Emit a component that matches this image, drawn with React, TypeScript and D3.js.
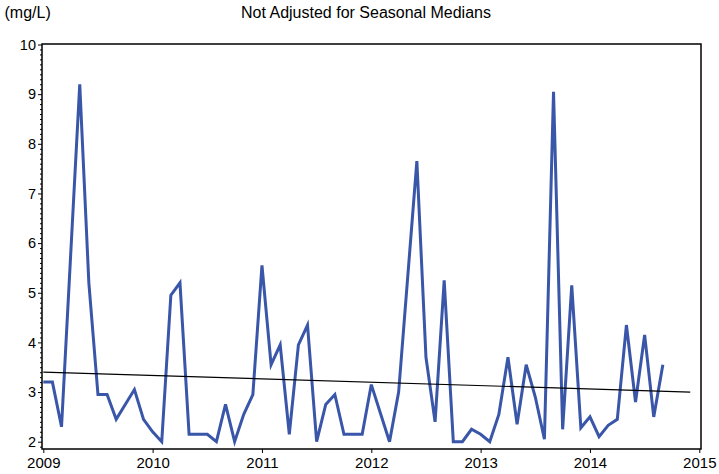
import * as React from 'react';
import * as d3 from 'd3';

// monthly samples
const months = [
  '2009-01', '2009-02', '2009-03', '2009-05', '2009-06', '2009-07', '2009-08', '2009-09', '2009-11', '2009-12',
  '2010-01', '2010-02', '2010-03', '2010-04', '2010-05', '2010-06', '2010-07', '2010-08', '2010-09', '2010-10', '2010-11', '2010-12',
  '2011-01', '2011-02', '2011-03', '2011-04', '2011-05', '2011-06', '2011-07', '2011-08', '2011-09', '2011-10', '2011-11', '2011-12',
  '2012-01', '2012-03', '2012-04', '2012-06', '2012-07', '2012-08', '2012-09', '2012-10', '2012-11', '2012-12',
  '2013-01', '2013-02', '2013-03', '2013-04', '2013-05', '2013-06', '2013-07', '2013-08', '2013-09', '2013-10', '2013-11', '2013-12',
  '2014-01', '2014-02', '2014-03', '2014-04', '2014-05', '2014-06', '2014-07', '2014-08', '2014-09',
];
const values = [
  3.2, 3.2, 2.3, 9.2, 5.2, 2.95, 2.95, 2.45, 3.05, 2.45,
  2.2, 2.0, 4.95, 5.2, 2.15, 2.15, 2.15, 2.0, 2.75, 2.0, 2.55, 2.95,
  5.55, 3.55, 3.95, 2.15, 3.95, 4.35, 2.0, 2.75, 2.95, 2.15, 2.15, 2.15,
  3.15, 2.0, 3.0, 7.65, 3.7, 2.4, 5.25, 2.0, 2.0, 2.25,
  2.15, 2.0, 2.55, 3.7, 2.35, 3.55, 2.9, 2.05, 9.05, 2.25, 5.15, 2.28,
  2.5, 2.1, 2.33, 2.45, 4.35, 2.8, 4.15, 2.5, 3.55,
];

// trend line end points
const trendYears = [2009, 2014.917];
const trendValues = [3.4, 3.0];

const yearTicks = [2009, 2010, 2011, 2012, 2013, 2014, 2015];
const valueTicks = [2, 3, 4, 5, 6, 7, 8, 9, 10];

const title = 'Not Adjusted for Seasonal Medians';
const unitLabel = '(mg/L)';

const toYear = (m: string) => {
  const [y, mo] = m.split('-').map(Number);
  return y + (mo - 1) / 12;
};

export default function App() {
  const gx = React.useRef<SVGGElement>(null);
  const gy = React.useRef<SVGGElement>(null);
  const gyMinor = React.useRef<SVGGElement>(null);

  const W = 719, H = 474;
  const frame = { left: 42, right: 701, top: 44, bottom: 449 };

  const x = d3.scaleLinear().domain([2009, 2015]).range([43.3, 699.3]);
  const y = d3.scaleLinear().domain([2, 10]).range([441.7, 44.5]);

  const pts = months.map((m, i) => ({ t: toYear(m), v: values[i] }));
  const line = d3.line<{ t: number; v: number }>().x(d => x(d.t)).y(d => y(d.v));
  const trend = trendYears.map((t, i) => ({ t, v: trendValues[i] }));

  React.useEffect(() => {
    d3.select(gx.current)
      .call(d3.axisBottom(x).tickValues(yearTicks).tickFormat(d3.format('d')).tickSize(4).tickPadding(4) as any)
      .call(g => g.select('.domain').remove())
      .call(g => g.selectAll('text').attr('font-size', 15).attr('font-family', 'Liberation Sans, Arial, sans-serif').attr('fill', '#000'));

    d3.select(gy.current)
      .call(d3.axisLeft(y).tickValues(valueTicks).tickFormat(d3.format('d')).tickSize(4).tickPadding(2) as any)
      .call(g => g.select('.domain').remove())
      .call(g => g.selectAll('text').attr('font-size', 14.5).attr('font-family', 'Liberation Sans, Arial, sans-serif').attr('fill', '#000'));

    const minor = d3.range(19, 100).map(k => k / 10).filter(v => Math.abs(v - Math.round(v)) > 1e-6);
    d3.select(gyMinor.current)
      .call(d3.axisLeft(y).tickValues(minor).tickFormat(() => '').tickSize(2) as any)
      .call(g => g.select('.domain').remove());
  }, []);

  return (
    <svg width={W} height={H} style={{ position: 'absolute', left: 0, top: 0, background: '#fff' }}
      fontFamily="Liberation Sans, Arial, sans-serif">
      <text x={4.5} y={17.5} fontSize={16}>{unitLabel}</text>
      <text x={366} y={17.5} fontSize={16} textAnchor="middle">{title}</text>

      <path d={line(pts) || ''} fill="none" stroke="#3956a8" strokeWidth={3} strokeLinejoin="miter" />
      <path d={line(trend) || ''} fill="none" stroke="#000" strokeWidth={1.2} />

      <rect x={frame.left} y={frame.top} width={frame.right - frame.left} height={frame.bottom - frame.top}
        fill="none" stroke="#000" strokeWidth={1.5} />

      <g ref={gx} transform={`translate(0, ${frame.bottom})`} />
      <g ref={gy} transform={`translate(${frame.left}, 0)`} />
      <g ref={gyMinor} transform={`translate(${frame.left}, 0)`} />
    </svg>
  );
}
